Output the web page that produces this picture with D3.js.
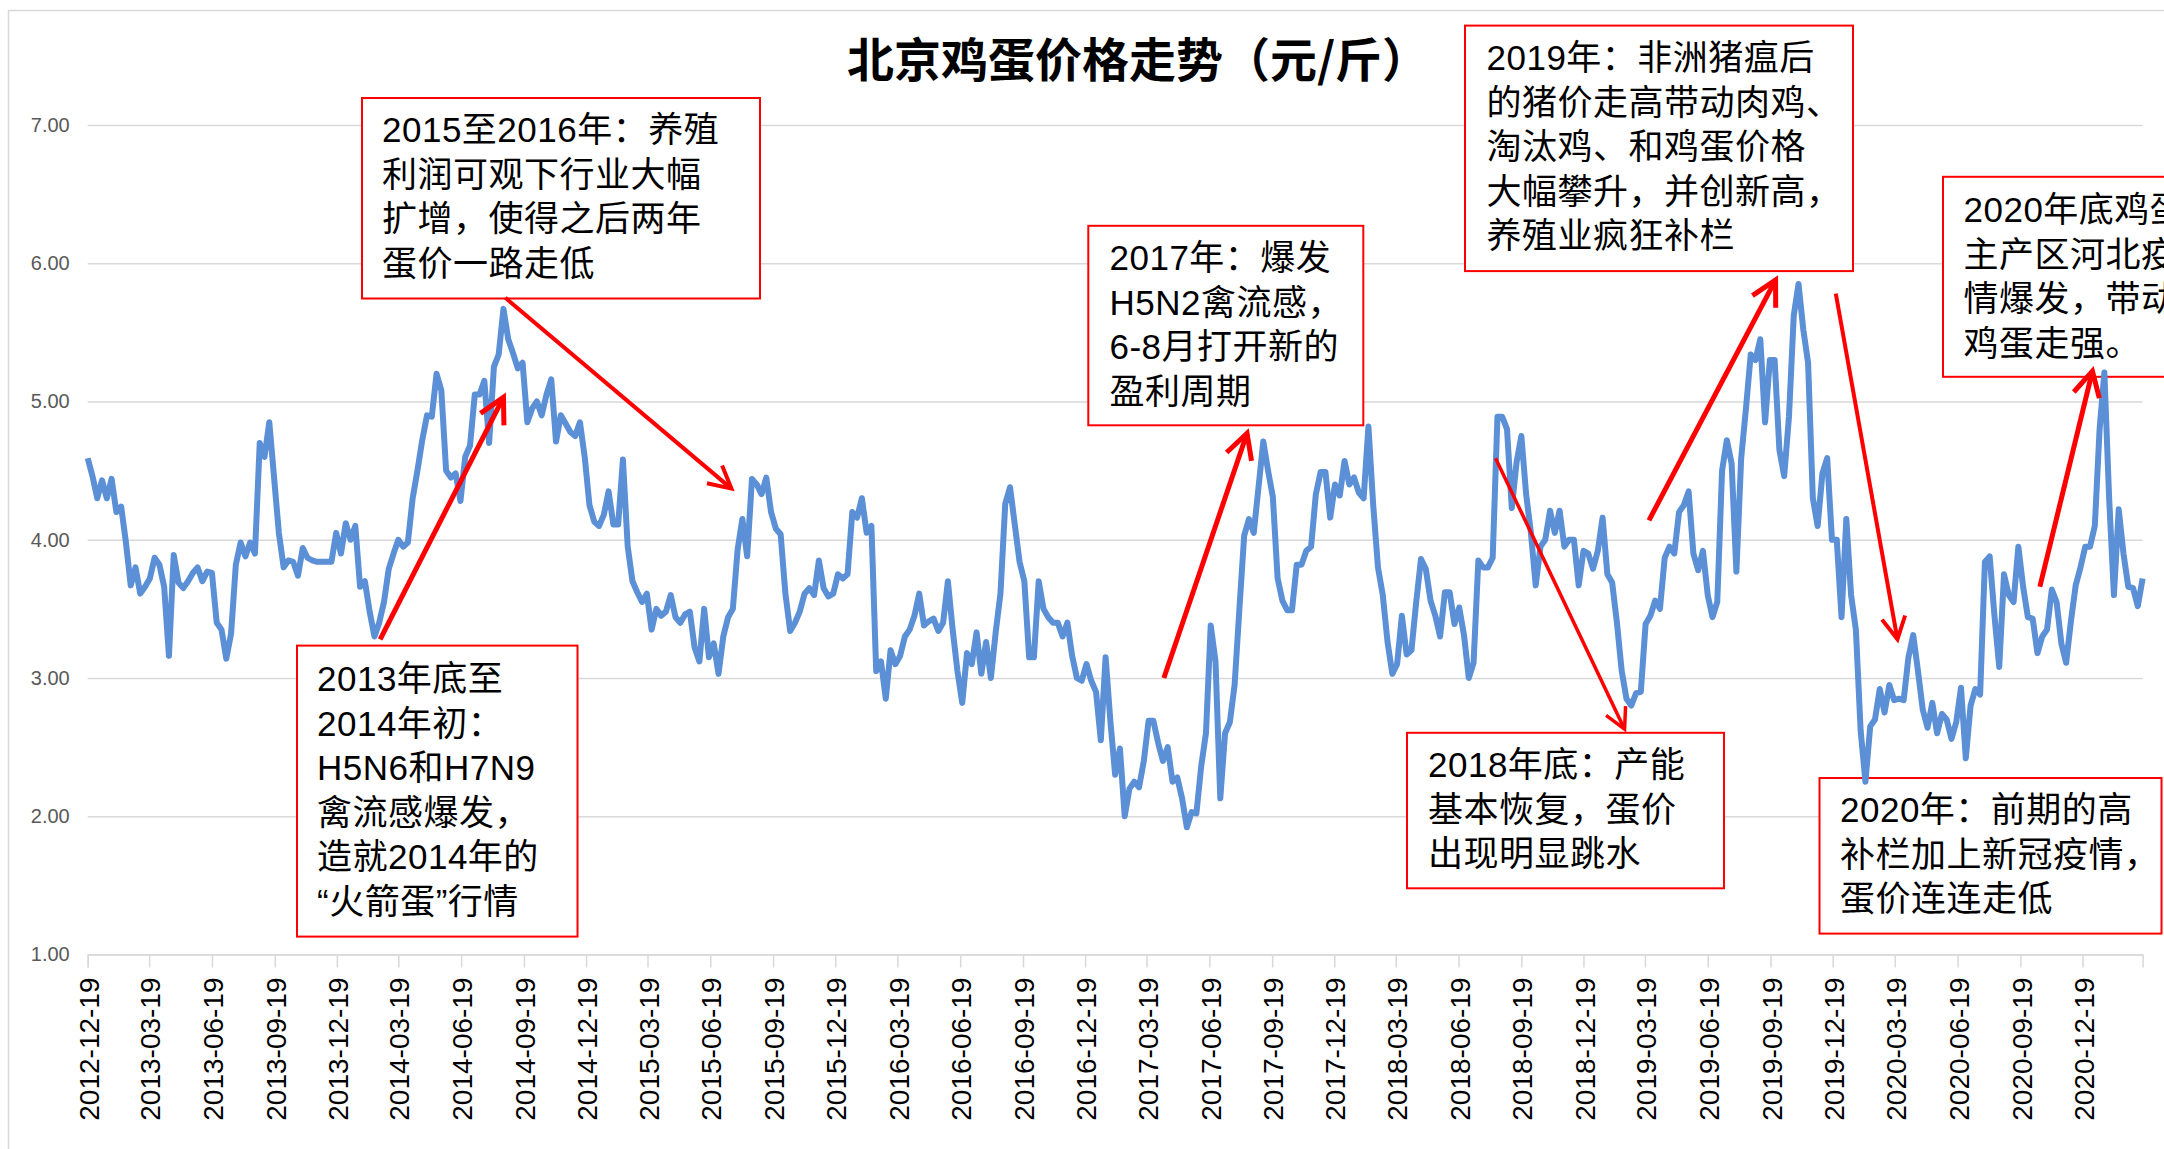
<!DOCTYPE html>
<html lang="zh">
<head>
<meta charset="UTF-8">
<title>北京鸡蛋价格走势</title>
<style>
  body { margin: 0; background: #fff; }
  svg { display: block; }
</style>
</head>
<body>
<script src="https://d3js.org/d3.v7.min.js"></script>
<script>
// weekly series, first week = startDate
var startDate = "2012-12-19";
var prices = [
  4.59, 4.46, 4.30, 4.43, 4.30, 4.44, 4.20, 4.24, 3.98, 3.67,
  3.80, 3.61, 3.66, 3.72, 3.87, 3.82, 3.66, 3.16, 3.89, 3.69,
  3.65, 3.70, 3.76, 3.80, 3.70, 3.77, 3.76, 3.40, 3.35, 3.14,
  3.32, 3.82, 3.98, 3.88, 3.98, 3.90, 4.70, 4.60, 4.85, 4.45,
  4.05, 3.80, 3.85, 3.84, 3.74, 3.94, 3.87, 3.85, 3.84, 3.84,
  3.84, 3.84, 4.05, 3.90, 4.12, 4.00, 4.10, 3.66, 3.70, 3.48,
  3.30, 3.40, 3.55, 3.79, 3.90, 4.00, 3.95, 3.98, 4.30, 4.50,
  4.72, 4.90, 4.89, 5.20, 5.08, 4.50, 4.45, 4.48, 4.28, 4.60,
  4.68, 5.05, 5.05, 5.15, 4.70, 5.25, 5.34, 5.67, 5.45, 5.35,
  5.24, 5.28, 4.85, 4.95, 5.00, 4.90, 5.05, 5.16, 4.71, 4.90,
  4.84, 4.78, 4.75, 4.85, 4.60, 4.25, 4.13, 4.10, 4.18, 4.35,
  4.11, 4.11, 4.58, 3.95, 3.70, 3.62, 3.55, 3.61, 3.35, 3.50,
  3.45, 3.48, 3.60, 3.44, 3.40, 3.46, 3.48, 3.22, 3.12, 3.50,
  3.15, 3.25, 3.03, 3.30, 3.44, 3.50, 3.93, 4.15, 3.88, 4.44,
  4.40, 4.33, 4.45, 4.20, 4.08, 4.04, 3.61, 3.34, 3.40, 3.48,
  3.61, 3.65, 3.60, 3.85, 3.65, 3.59, 3.61, 3.75, 3.72, 3.75,
  4.20, 4.16, 4.30, 4.05, 4.10, 3.05, 3.12, 2.85, 3.20, 3.10,
  3.16, 3.30, 3.35, 3.45, 3.61, 3.38, 3.41, 3.43, 3.34, 3.40,
  3.70, 3.35, 3.05, 2.82, 3.18, 3.10, 3.33, 3.03, 3.26, 3.00,
  3.33, 3.61, 4.26, 4.38, 4.11, 3.84, 3.70, 3.15, 3.15, 3.70,
  3.50, 3.44, 3.40, 3.40, 3.30, 3.40, 3.16, 3.00, 2.98, 3.10,
  2.98, 2.90, 2.55, 3.15, 2.69, 2.30, 2.49, 2.00, 2.20, 2.25,
  2.21, 2.40, 2.69, 2.69, 2.53, 2.40, 2.50, 2.25, 2.28, 2.13,
  1.92, 2.03, 2.02, 2.36, 2.60, 3.38, 3.12, 2.13, 2.60, 2.68,
  2.95, 3.50, 4.03, 4.15, 4.05, 4.38, 4.71, 4.50, 4.31, 3.72,
  3.56, 3.49, 3.49, 3.82, 3.82, 3.92, 3.95, 4.33, 4.49, 4.49,
  4.16, 4.40, 4.32, 4.57, 4.40, 4.45, 4.34, 4.30, 4.82, 4.25,
  3.80, 3.60, 3.26, 3.03, 3.10, 3.45, 3.17, 3.20, 3.55, 3.86,
  3.79, 3.56, 3.45, 3.30, 3.62, 3.62, 3.39, 3.51, 3.31, 3.00,
  3.11, 3.85, 3.80, 3.80, 3.87, 4.89, 4.89, 4.80, 4.23, 4.56,
  4.75, 4.33, 4.05, 3.67, 3.95, 4.00, 4.21, 4.05, 4.21, 3.95,
  4.00, 4.00, 3.67, 3.92, 3.90, 3.79, 3.92, 4.16, 3.75, 3.69,
  3.40, 3.05, 2.85, 2.80, 2.89, 2.90, 3.39, 3.45, 3.56, 3.50,
  3.87, 3.95, 3.90, 4.20, 4.25, 4.35, 3.90, 3.78, 3.92, 3.60,
  3.44, 3.55, 4.50, 4.72, 4.55, 3.77, 4.59, 4.95, 5.34, 5.30,
  5.45, 4.85, 5.30, 5.30, 4.65, 4.46, 4.89, 5.62, 5.85, 5.52,
  5.28, 4.30, 4.10, 4.48, 4.59, 4.00, 4.00, 3.44, 4.15, 3.60,
  3.35, 2.62, 2.25, 2.65, 2.70, 2.92, 2.75, 2.95, 2.84, 2.85,
  2.84, 3.15, 3.31, 3.05, 2.77, 2.64, 2.82, 2.60, 2.74, 2.70,
  2.56, 2.68, 2.93, 2.42, 2.80, 2.92, 2.88, 3.84, 3.88, 3.45,
  3.08, 3.75, 3.60, 3.55, 3.95, 3.66, 3.44, 3.43, 3.18, 3.30,
  3.35, 3.64, 3.55, 3.25, 3.11, 3.41, 3.67, 3.80, 3.95, 3.95,
  4.10, 4.80, 5.21, 4.30, 3.60, 4.22, 3.90, 3.66, 3.65, 3.52, 3.72
];

var tickLabels = [
  "2012-12-19", "2013-03-19", "2013-06-19", "2013-09-19", "2013-12-19",
  "2014-03-19", "2014-06-19", "2014-09-19", "2014-12-19", "2015-03-19",
  "2015-06-19", "2015-09-19", "2015-12-19", "2016-03-19", "2016-06-19",
  "2016-09-19", "2016-12-19", "2017-03-19", "2017-06-19", "2017-09-19",
  "2017-12-19", "2018-03-19", "2018-06-19", "2018-09-19", "2018-12-19",
  "2019-03-19", "2019-06-19", "2019-09-19", "2019-12-19", "2020-03-19",
  "2020-06-19", "2020-09-19", "2020-12-19"
];

var yTicks = [1, 2, 3, 4, 5, 6, 7];

var title = "北京鸡蛋价格走势（元/斤）";

// text boxes: [left, top, width, height], text left, first baseline
var notes = [
  { box: [362, 98, 398, 200.5], tx: 382, ty: 142,
    lines: ["2015至2016年：养殖", "利润可观下行业大幅", "扩增，使得之后两年", "蛋价一路走低"] },
  { box: [297, 645.6, 280.5, 291], tx: 317, ty: 691,
    lines: ["2013年底至", "2014年初：", "H5N6和H7N9", "禽流感爆发，", "造就2014年的", "“火箭蛋”行情"] },
  { box: [1088.3, 225.8, 275, 199.5], tx: 1109.5, ty: 270,
    lines: ["2017年：爆发", "H5N2禽流感，", "6-8月打开新的", "盈利周期"] },
  { box: [1465, 25.6, 388, 245.5], tx: 1486.5, ty: 70,
    lines: ["2019年：非洲猪瘟后", "的猪价走高带动肉鸡、", "淘汰鸡、和鸡蛋价格", "大幅攀升，并创新高，", "养殖业疯狂补栏"] },
  { box: [1943, 176.8, 400, 200], tx: 1963.5, ty: 222,
    lines: ["2020年底鸡蛋", "主产区河北疫", "情爆发，带动", "鸡蛋走强。"] },
  { box: [1407, 732.8, 317, 155.5], tx: 1428, ty: 777,
    lines: ["2018年底：产能", "基本恢复，蛋价", "出现明显跳水"] },
  { box: [1819.5, 778, 342, 155.6], tx: 1840, ty: 822,
    lines: ["2020年：前期的高", "补栏加上新冠疫情，", "蛋价连连走低"] }
];

// red arrows, ends given as [week index, price]
var arrows = [
  { from: [61.2, 3.28], to: [87.0, 5.03], w: 5, head: 28 },
  { from: [87.4, 5.75], to: [134.7, 4.37], w: 4, head: 25 },
  { from: [225.2, 3.00], to: [242.6, 4.77], w: 5, head: 28 },
  { from: [294.6, 4.59], to: [321.6, 2.63], w: 3.5, head: 23 },
  { from: [326.7, 4.14], to: [353.2, 5.88], w: 5, head: 28 },
  { from: [365.8, 5.78], to: [378.7, 3.28], w: 4, head: 25 },
  { from: [408.5, 3.66], to: [419.5, 5.22], w: 5, head: 28 }
];

var W = 2164, H = 1149;
var plotLeft = 87.7, plotRight = 2142.6, plotTop = 125, plotBottom = 954.5;

var parse = d3.timeParse("%Y-%m-%d");
var t0 = parse(startDate);
function weekDate(w) { return new Date(t0.getTime() + w * 7 * 864e5); }

var series = prices.map(function(p, i) { return { date: weekDate(i), value: p }; });

var x = d3.scaleTime()
    .domain([t0, weekDate(prices.length - 1)])
    .range([plotLeft, plotRight]);

var y = d3.scaleLinear()
    .domain([1, 7])
    .range([plotBottom, plotTop]);

var svg = d3.select("body").append("svg")
    .attr("width", W)
    .attr("height", H);

svg.append("rect")
    .attr("width", W).attr("height", H)
    .attr("fill", "#fff");

svg.append("rect")
    .attr("x", 8.5).attr("y", 10.5)
    .attr("width", W + 100).attr("height", H + 100)
    .attr("fill", "none")
    .attr("stroke", "#d9d9d9")
    .attr("stroke-width", 1.5);

// gridlines + y labels
var yAxis = svg.append("g")
    .attr("transform", "translate(" + plotLeft + ",0)")
    .call(d3.axisLeft(y)
      .tickValues(yTicks)
      .tickSize(-(plotRight - plotLeft))
      .tickPadding(18)
      .tickFormat(d3.format(".2f")));
yAxis.select(".domain").remove();
yAxis.selectAll(".tick line")
    .attr("stroke", "#d9d9d9")
    .attr("stroke-width", 1.5);
yAxis.selectAll(".tick text")
    .attr("fill", "#595959")
    .style("font-family", "'Liberation Sans', Arial, sans-serif")
    .style("font-size", "20px");

// x axis
var xAxis = svg.append("g")
    .attr("transform", "translate(0," + plotBottom + ")")
    .call(d3.axisBottom(x)
      .tickValues(tickLabels.map(parse))
      .tickSize(13)
      .tickSizeOuter(13)
      .tickFormat(d3.timeFormat("%Y-%m-%d")));
xAxis.select(".domain")
    .attr("stroke", "#d9d9d9")
    .attr("stroke-width", 1.5);
xAxis.selectAll(".tick line")
    .attr("stroke", "#d9d9d9")
    .attr("stroke-width", 1.5);
xAxis.selectAll(".tick text")
    .attr("transform", "rotate(-90)")
    .attr("x", -23)
    .attr("y", 0)
    .attr("dy", "0.38em")
    .attr("text-anchor", "end")
    .attr("fill", "#000")
    .style("font-family", "'Liberation Sans', Arial, sans-serif")
    .style("font-size", "28px");

// title
svg.append("text")
    .attr("x", 1138)
    .attr("y", 77)
    .attr("text-anchor", "middle")
    .style("font-family", "'Noto Sans CJK SC', sans-serif")
    .style("font-size", "47px")
    .style("font-weight", "bold")
    .text(title);

// text boxes
var note = svg.selectAll("g.note")
    .data(notes)
  .enter().append("g")
    .attr("class", "note");

note.append("rect")
    .attr("x", function(d) { return d.box[0]; })
    .attr("y", function(d) { return d.box[1]; })
    .attr("width", function(d) { return d.box[2]; })
    .attr("height", function(d) { return d.box[3]; })
    .attr("fill", "#fff")
    .attr("stroke", "#ff0000")
    .attr("stroke-width", 2);

note.append("text")
    .style("font-family", "'Liberation Sans', 'Noto Sans CJK SC', sans-serif")
    .style("font-size", "35px")
    .style("letter-spacing", "0.5px")
    .attr("fill", "#000")
  .selectAll("tspan")
    .data(function(d) { return d.lines.map(function(l, i) { return { t: l, x: d.tx, y: d.ty + i * 44.5 }; }); })
  .enter().append("tspan")
    .attr("x", function(d) { return d.x; })
    .attr("y", function(d) { return d.y; })
    .text(function(d) { return d.t; });

// price line
var line = d3.line()
    .x(function(d) { return x(d.date); })
    .y(function(d) { return y(d.value); });

svg.append("path")
    .datum(series)
    .attr("d", line)
    .attr("fill", "none")
    .attr("stroke", "#5b8fd6")
    .attr("stroke-width", 6)
    .attr("stroke-linejoin", "round");

// arrows
var ang = 28 * Math.PI / 180;
arrows.forEach(function(a) {
  var x1 = x(weekDate(a.from[0])), y1 = y(a.from[1]),
      x2 = x(weekDate(a.to[0])), y2 = y(a.to[1]),
      back = Math.atan2(y1 - y2, x1 - x2);
  var g = svg.append("g")
      .attr("fill", "none")
      .attr("stroke", "#ff0000")
      .attr("stroke-width", a.w);
  g.append("line")
      .attr("x1", x1).attr("y1", y1)
      .attr("x2", x2).attr("y2", y2);
  g.append("polyline")
      .attr("stroke-linejoin", "miter")
      .attr("points", [
        [x2 + a.head * Math.cos(back + ang), y2 + a.head * Math.sin(back + ang)],
        [x2, y2],
        [x2 + a.head * Math.cos(back - ang), y2 + a.head * Math.sin(back - ang)]
      ].map(function(p) { return p.join(","); }).join(" "));
});
</script>
</body>
</html>
